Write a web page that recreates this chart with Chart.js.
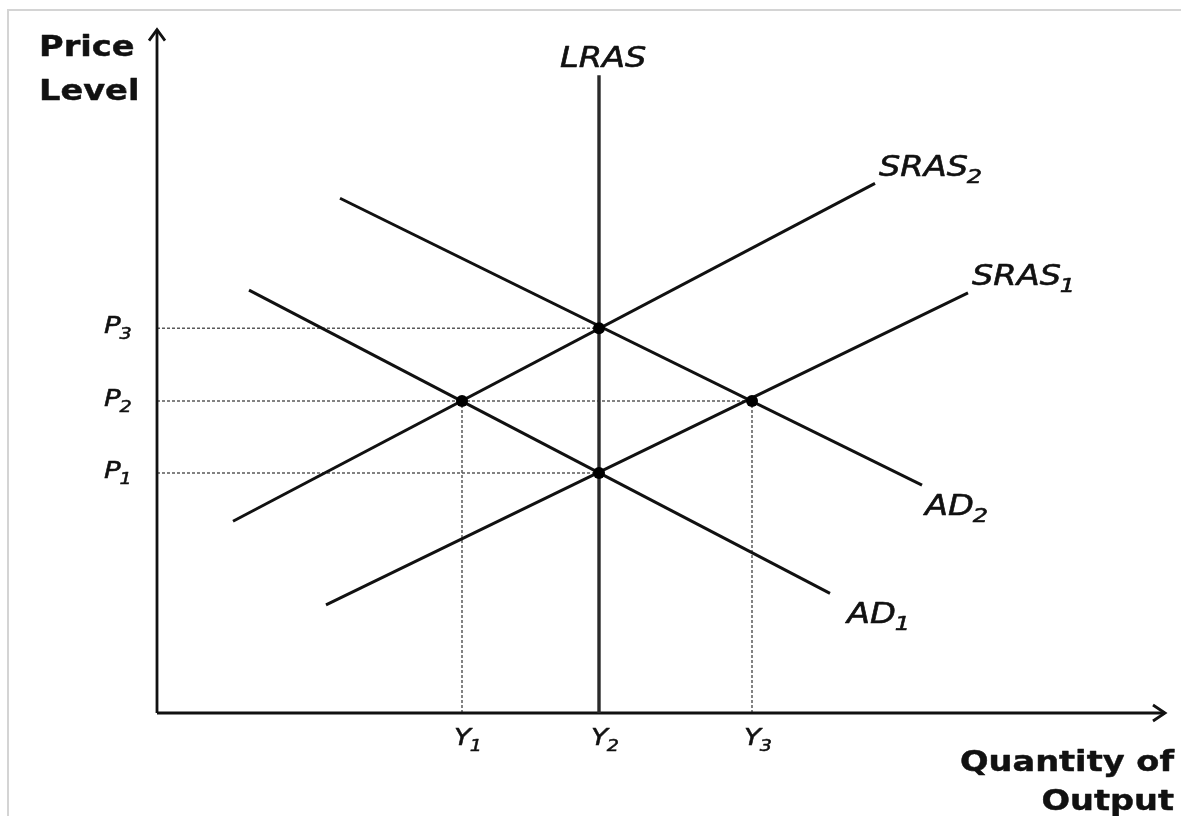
<!DOCTYPE html>
<html>
<head>
<meta charset="utf-8">
<script src="https://cdn.jsdelivr.net/npm/chart.js@4/dist/chart.umd.min.js"></script>
<style>
  html, body { margin: 0; padding: 0; background: #ffffff; }
  #wrap { width: 1181px; height: 816px; }
</style>
</head>
<body>
<div id="wrap"><canvas id="c" width="1181" height="816"></canvas></div>
<script>
// ---- data (Quantity of Output on x, Price Level on y; arbitrary units 0..100) ----
const priceLevels   = [35.3, 45.9, 56.6];          // P1, P2, P3
const priceSubs     = ['1', '2', '3'];
const outputLevels  = [30.5, 44.2, 59.5];          // Y1, Y2, Y3
const outputSubs    = ['1', '2', '3'];
const lras  = [[44.2, 0], [44.2, 93.8]];
const sras1 = [[16.9, 15.9], [81.1, 61.8]];
const sras2 = [[7.6, 28.2], [71.8, 77.9]];
const ad1   = [[9.2, 62.2], [67.3, 17.6]];
const ad2   = [[18.3, 75.7], [76.5, 33.5]];
// equilibrium points as [output index, price index]
const equilibria = [[0, 1], [1, 2], [2, 1], [1, 0]];
const curveNames = [
  { data: lras,  base: 'LRAS', sub: '' },
  { data: sras2, base: 'SRAS', sub: '2' },
  { data: sras1, base: 'SRAS', sub: '1' },
  { data: ad2,   base: 'AD',   sub: '2' },
  { data: ad1,   base: 'AD',   sub: '1' }
];

const toPts = arr => arr.map(p => ({ x: p[0], y: p[1] }));
const eqPts = equilibria.map(e => ({ x: outputLevels[e[0]], y: priceLevels[e[1]] }));

// guide (dashed) lines built from equilibria
const guides = [];
priceLevels.forEach(p => {
  const xs = eqPts.filter(q => q.y === p).map(q => q.x);
  guides.push([{ x: 0, y: p }, { x: Math.max(...xs), y: p }]);
});
outputLevels.forEach(o => {
  if (o === lras[0][0]) return;
  const ys = eqPts.filter(q => q.x === o).map(q => q.y);
  guides.push([{ x: o, y: 0 }, { x: o, y: Math.max(...ys) }]);
});

const datasets = [];
datasets.push({ data: eqPts, showLine: false, pointRadius: 6, pointBackgroundColor: '#000', pointBorderColor: '#000', pointBorderWidth: 0, order: 0 });
datasets.push({ data: toPts(lras), showLine: true, borderColor: '#2a2a2a', borderWidth: 3.4, pointRadius: 0, order: 1 });
[sras2, sras1, ad2, ad1].forEach(c => {
  datasets.push({ data: toPts(c), showLine: true, borderColor: '#111', borderWidth: 3, pointRadius: 0, order: 2 });
});
// axes
datasets.push({ data: [{ x: 0, y: 0 }, { x: 100.8, y: 0 }], showLine: true, borderColor: '#111', borderWidth: 2.8, pointRadius: 0, clip: false, order: 3 });
datasets.push({ data: [{ x: 0, y: 0 }, { x: 0, y: 100.5 }], showLine: true, borderColor: '#111', borderWidth: 2.8, pointRadius: 0, clip: false, order: 3 });
guides.forEach(g => {
  datasets.push({ data: g, showLine: true, borderColor: '#5a5a5a', borderWidth: 1.5, borderDash: [3, 2], pointRadius: 0, order: 4 });
});

const SX = 1.2;
const FAM = '"DejaVu Sans", Verdana, sans-serif';

function drawLabel(ctx, base, sub, x, y, size, subSize, style, align, thick) {
  ctx.save();
  ctx.font = `${style} ${size}px ${FAM}`;
  const wb = ctx.measureText(base).width;
  ctx.font = `${style} ${subSize}px ${FAM}`;
  const ws = sub ? ctx.measureText(sub).width - 1 : 0;
  const total = (wb + ws) * SX;
  let left = x;
  if (align === 'right') left = x - total;
  if (align === 'center') left = x - total / 2;
  ctx.translate(left, y);
  ctx.scale(SX, 1);
  ctx.fillStyle = '#111';
  ctx.strokeStyle = '#111';
  ctx.lineWidth = thick;
  ctx.lineJoin = 'round';
  ctx.textBaseline = 'alphabetic';
  ctx.textAlign = 'left';
  ctx.font = `${style} ${size}px ${FAM}`;
  ctx.fillText(base, 0, 0);
  if (thick) ctx.strokeText(base, 0, 0);
  if (sub) {
    ctx.font = `${style} ${subSize}px ${FAM}`;
    ctx.fillText(sub, wb - 1, Math.round(size * 0.25));
    if (thick) ctx.strokeText(sub, wb - 1, Math.round(size * 0.25));
  }
  ctx.restore();
}

const decor = {
  id: 'decor',
  beforeDraw(chart) {
    const ctx = chart.ctx;
    ctx.save();
    ctx.fillStyle = '#fff';
    ctx.fillRect(0, 0, chart.width, chart.height);
    ctx.strokeStyle = '#d4d4d4';
    ctx.lineWidth = 2;
    ctx.beginPath();
    ctx.moveTo(8, 816);
    ctx.lineTo(8, 10);
    ctx.lineTo(1181, 10);
    ctx.stroke();
    ctx.restore();
  },
  afterDraw(chart) {
    const ctx = chart.ctx;
    const xs = chart.scales.x, ys = chart.scales.y;
    const X = v => xs.getPixelForValue(v), Y = v => ys.getPixelForValue(v);
    // arrowheads
    ctx.save();
    ctx.strokeStyle = '#111';
    ctx.lineWidth = 2.8;
    ctx.lineJoin = 'miter';
    const tx = X(100.8), ty = Y(0);
    ctx.beginPath();
    ctx.moveTo(tx - 12, ty - 8); ctx.lineTo(tx, ty); ctx.lineTo(tx - 12, ty + 8);
    ctx.stroke();
    const ux = X(0), uy = Y(100.5);
    ctx.beginPath();
    ctx.moveTo(ux - 8, uy + 11); ctx.lineTo(ux, uy); ctx.lineTo(ux + 8, uy + 11);
    ctx.stroke();
    ctx.restore();

    // axis titles
    drawLabel(ctx, 'Price', '', 39, 56, 28, 0, 'bold', 'left', 0.45);
    drawLabel(ctx, 'Level', '', 39, 100, 28, 0, 'bold', 'left', 0.45);
    drawLabel(ctx, 'Quantity of', '', 1174, 771, 28, 0, 'bold', 'right', 0.45);
    drawLabel(ctx, 'Output', '', 1174, 810, 28, 0, 'bold', 'right', 0.45);

    // price / output labels
    priceLevels.forEach((p, i) => {
      drawLabel(ctx, 'P', priceSubs[i], 104, Y(p) + 5, 23, 16, 'italic', 'left', 0.5);
    });
    outputLevels.forEach((o, i) => {
      drawLabel(ctx, 'Y', outputSubs[i], X(o) - 8, 745, 23, 16, 'italic', 'left', 0.5);
    });

    // curve labels, positioned from each curve's end point
    const offs = [[-39, -8], [4, -7], [4, -8], [3, 30], [17, 30]];
    curveNames.forEach((c, i) => {
      const end = c.data[c.data.length - 1];
      drawLabel(ctx, c.base, c.sub, X(end[0]) + offs[i][0], Y(end[1]) + offs[i][1], 28, 20, 'italic', 'left', 0.6);
    });
  }
};

new Chart(document.getElementById('c'), {
  type: 'scatter',
  data: { datasets },
  options: {
    responsive: false,
    animation: false,
    events: [],
    layout: { padding: { left: 157, right: 14, top: 28, bottom: 103 } },
    plugins: { legend: { display: false }, tooltip: { enabled: false } },
    scales: {
      x: { type: 'linear', display: false, min: 0, max: 101 },
      y: { type: 'linear', display: false, min: 0, max: 100.74 }
    }
  },
  plugins: [decor]
});
</script>
</body>
</html>
